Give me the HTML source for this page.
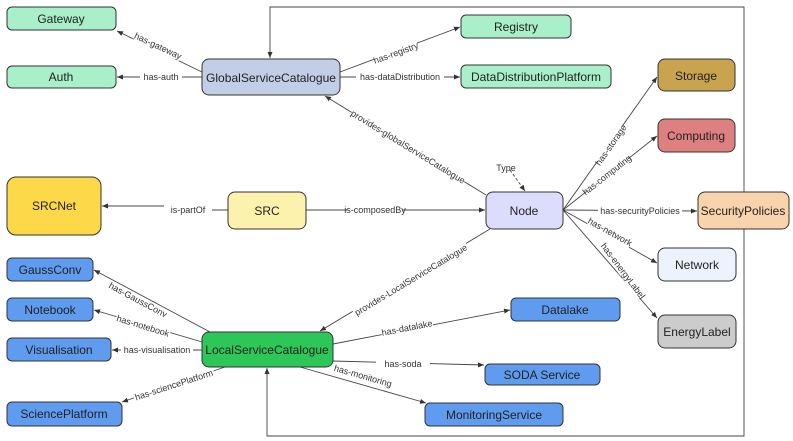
<!DOCTYPE html>
<html><head><meta charset="utf-8"><style>
html,body{margin:0;padding:0;background:#fff;}
svg{display:block;font-family:"Liberation Sans",sans-serif;}
.n{stroke:#333;stroke-width:1;}
.t{font-size:12px;fill:#222;text-anchor:middle;dominant-baseline:central;}
.l{font-size:9px;fill:#333;text-anchor:middle;dominant-baseline:central;}
.e{stroke:#444;stroke-width:0.9;fill:none;}
.lb{fill:#fff;}
</style></head><body>
<svg width="793" height="441" viewBox="0 0 793 441">
<defs><marker id="a" markerWidth="7" markerHeight="7" refX="6" refY="3" orient="auto" markerUnits="userSpaceOnUse"><path d="M0,0.5 L6,3 L0,5.5z" fill="#333"/></marker></defs>
<path class="e" d="M744,192 V7 H270 V58" marker-end="url(#a)"/>
<path class="e" d="M744,229 V436 H267 V368" marker-end="url(#a)"/>
<path class="e" d="M202,72 L117,31" marker-end="url(#a)"/>
<path class="e" d="M202,77 L117,77" marker-end="url(#a)"/>
<path class="e" d="M340,72 L460,27" marker-end="url(#a)"/>
<path class="e" d="M340,77 L460,77" marker-end="url(#a)"/>
<path class="e" d="M486,195 L325,96" marker-end="url(#a)"/>
<path class="e" d="M228,210 H165 V206 H102" marker-end="url(#a)"/>
<path class="e" d="M306,210 H485" marker-end="url(#a)"/>
<path class="e" d="M510,170 L525,191" stroke-dasharray="3,2" marker-end="url(#a)"/>
<path class="e" d="M563,210 L657,77" marker-end="url(#a)"/>
<path class="e" d="M563,210 L657,136" marker-end="url(#a)"/>
<path class="e" d="M563,210 L697,211" marker-end="url(#a)"/>
<path class="e" d="M563,210 L657,263" marker-end="url(#a)"/>
<path class="e" d="M563,210 L657,318" marker-end="url(#a)"/>
<path class="e" d="M490,229 L320,331" marker-end="url(#a)"/>
<path class="e" d="M210,332 L94,270" marker-end="url(#a)"/>
<path class="e" d="M202,342 L94,310" marker-end="url(#a)"/>
<path class="e" d="M202,350 L112,350" marker-end="url(#a)"/>
<path class="e" d="M225,367 L122,402" marker-end="url(#a)"/>
<path class="e" d="M333,344 L510,310" marker-end="url(#a)"/>
<path class="e" d="M333,361 L484,365" marker-end="url(#a)"/>
<path class="e" d="M300,367 L426,403" marker-end="url(#a)"/>
<g class="l">
<rect class="lb" x="133" y="41" width="50" height="10" transform="rotate(25 158 46)"/><text x="158" y="46" transform="rotate(25 158 46)">has-gateway</text>
<rect class="lb" x="140" y="72" width="42" height="10"/><text x="161" y="77">has-auth</text>
<rect class="lb" x="373" y="48" width="46" height="10" transform="rotate(-20 396 53)"/><text x="396" y="53" transform="rotate(-20 396 53)">has-registry</text>
<rect class="lb" x="356" y="72" width="88" height="10"/><text x="400" y="77">has-dataDistribution</text>
<rect class="lb" x="342" y="142" width="132" height="10" transform="rotate(31.5 408 147)"/><text x="408" y="147" transform="rotate(31.5 408 147)">provides-globalServiceCatalogue</text>
<rect class="lb" x="164" y="205" width="48" height="10"/><text x="188" y="210">is-partOf</text>
<rect class="lb" x="348" y="205" width="54" height="10"/><text x="375" y="210">is-composedBy</text>
<text x="506" y="168">Type</text>
<rect class="lb" x="590" y="140" width="42" height="10" transform="rotate(-55 611 145)"/><text x="611" y="145" transform="rotate(-55 611 145)">has-storage</text>
<rect class="lb" x="581" y="170" width="52" height="10" transform="rotate(-38 607 175)"/><text x="607" y="175" transform="rotate(-38 607 175)">has-computing</text>
<rect class="lb" x="598" y="206" width="84" height="10"/><text x="640" y="211">has-securityPolicies</text>
<rect class="lb" x="586" y="227" width="48" height="10" transform="rotate(29 610 232)"/><text x="610" y="232" transform="rotate(29 610 232)">has-network</text>
<rect class="lb" x="592" y="266" width="62" height="10" transform="rotate(53 623 271)"/><text x="623" y="271" transform="rotate(53 623 271)">has-energyLabel</text>
<rect class="lb" x="345" y="275" width="132" height="10" transform="rotate(-31 411 280)"/><text x="411" y="280" transform="rotate(-31 411 280)">provides-LocalServiceCatalogue</text>
<rect class="lb" x="108" y="295" width="60" height="10" transform="rotate(28 138 300)"/><text x="138" y="300" transform="rotate(28 138 300)">has-GaussConv</text>
<rect class="lb" x="115" y="321" width="56" height="10" transform="rotate(17 143 326)"/><text x="143" y="326" transform="rotate(17 143 326)">has-notebook</text>
<rect class="lb" x="121" y="345" width="72" height="10"/><text x="157" y="350">has-visualisation</text>
<rect class="lb" x="132" y="380" width="84" height="10" transform="rotate(-18 174 385)"/><text x="174" y="385" transform="rotate(-18 174 385)">has-sciencePlatform</text>
<rect class="lb" x="381" y="323" width="52" height="10" transform="rotate(-11 407 328)"/><text x="407" y="328" transform="rotate(-11 407 328)">has-datalake</text>
<rect class="lb" x="376" y="358" width="54" height="10"/><text x="403" y="364">has-soda</text>
<rect class="lb" x="328" y="371" width="70" height="10" transform="rotate(16 363 376)"/><text x="363" y="376" transform="rotate(16 363 376)">has-monitoring</text>
</g>
<rect class="n" x="7" y="7" width="109" height="23" rx="5" fill="#a9efc9"/><text class="t" x="61" y="19">Gateway</text>
<rect class="n" x="7" y="66" width="109" height="22" rx="5" fill="#a9efc9"/><text class="t" x="61" y="77">Auth</text>
<rect class="n" x="202" y="59" width="138" height="36" rx="7" fill="#c2cde6"/><text class="t" x="271" y="78" textLength="130" lengthAdjust="spacingAndGlyphs">GlobalServiceCatalogue</text>
<rect class="n" x="461" y="15" width="110" height="23" rx="5" fill="#a9efc9"/><text class="t" x="516" y="27">Registry</text>
<rect class="n" x="461" y="65" width="150" height="23" rx="5" fill="#a9efc9"/><text class="t" x="536" y="77">DataDistributionPlatform</text>
<rect class="n" x="658" y="59" width="77" height="32" rx="7" fill="#c9a44e"/><text class="t" x="696" y="76">Storage</text>
<rect class="n" x="658" y="119" width="77" height="33" rx="7" fill="#df8080"/><text class="t" x="696" y="136">Computing</text>
<rect class="n" x="698" y="192" width="91" height="37" rx="7" fill="#f9d3ab"/><text class="t" x="743" y="211">SecurityPolicies</text>
<rect class="n" x="486" y="192" width="77" height="37" rx="7" fill="#dcdcfc"/><text class="t" x="524" y="211">Node</text>
<rect class="n" x="228" y="192" width="78" height="37" rx="7" fill="#fdf2ad"/><text class="t" x="267" y="211">SRC</text>
<rect class="n" x="7" y="177" width="94" height="58" rx="9" fill="#fdd94a"/><text class="t" x="54" y="206">SRCNet</text>
<rect class="n" x="658" y="248" width="78" height="33" rx="7" fill="#edf3fe"/><text class="t" x="697" y="265">Network</text>
<rect class="n" x="658" y="315" width="78" height="33" rx="7" fill="#cccccc"/><text class="t" x="697" y="332">EnergyLabel</text>
<rect class="n" x="511" y="298" width="109" height="23" rx="5" fill="#5f9bef"/><text class="t" x="565" y="310">Datalake</text>
<rect class="n" x="485" y="364" width="115" height="21" rx="5" fill="#5f9bef"/><text class="t" x="542" y="375">SODA Service</text>
<rect class="n" x="425" y="403" width="138" height="23" rx="5" fill="#5f9bef"/><text class="t" x="494" y="415">MonitoringService</text>
<rect class="n" x="202" y="332" width="131" height="35" rx="7" fill="#2dc658"/><text class="t" x="267" y="350">LocalServiceCatalogue</text>
<rect class="n" x="7" y="258" width="86" height="23" rx="5" fill="#5f9bef"/><text class="t" x="50" y="270">GaussConv</text>
<rect class="n" x="7" y="298" width="86" height="23" rx="5" fill="#5f9bef"/><text class="t" x="50" y="310">Notebook</text>
<rect class="n" x="7" y="338" width="104" height="23" rx="5" fill="#5f9bef"/><text class="t" x="59" y="350">Visualisation</text>
<rect class="n" x="7" y="402" width="115" height="24" rx="5" fill="#5f9bef"/><text class="t" x="64" y="414">SciencePlatform</text>
</svg>
</body></html>
